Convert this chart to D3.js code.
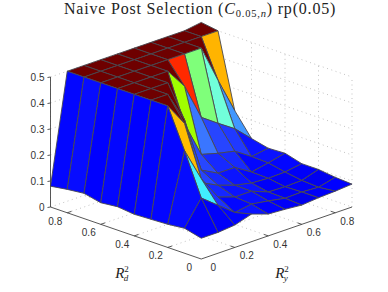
<!DOCTYPE html>
<html>
<head>
<meta charset="utf-8">
<style>
	html, body { margin: 0; padding: 0; background: #fff; }
	svg { display: block; }
</style>
<script src="https://cdnjs.cloudflare.com/ajax/libs/d3/7.8.5/d3.min.js"></script>
</head>
<body>
<svg id="chart" width="388" height="292"></svg>
<script>
var ryValues = [0, 0.1, 0.2, 0.3, 0.4, 0.5, 0.6, 0.7, 0.8, 0.9];
var rdValues = [0, 0.1, 0.2, 0.3, 0.4, 0.5, 0.6, 0.7, 0.8, 0.9];
var floorTicks = [0.2, 0.4, 0.6, 0.8];
var floorLabels = [0, 0.2, 0.4, 0.6, 0.8];
var zTicks = [0, 0.1, 0.2, 0.3, 0.4, 0.5];

// one list per Rd value, read along Ry
var zAtRd0 = [0.08, 0.08, 0.086, 0.106, 0.084, 0.08, 0.074, 0.08, 0.083, 0.088];
var zAtRd1 = [0.096, 0.19, 0.14, 0.09, 0.10, 0.09, 0.078, 0.08, 0.076, 0.092];
var zAtRd2 = [0.089, 0.35, 0.22, 0.127, 0.105, 0.105, 0.08, 0.078, 0.08, 0.10];
var zAtRd3 = [0.086, 0.5, 0.41, 0.16, 0.128, 0.106, 0.092, 0.088, 0.09, 0.10];
var zAtRd4 = [0.083, 0.5, 0.5, 0.38, 0.164, 0.13, 0.13, 0.09, 0.103, 0.118];
var zAtRd5 = [0.09, 0.5, 0.5, 0.5, 0.32, 0.18, 0.162, 0.148, 0.105, 0.115];
var zAtRd6 = [0.083, 0.5, 0.5, 0.5, 0.5, 0.42, 0.278, 0.233, 0.19, 0.13];
var zAtRd7 = [0.097, 0.5, 0.5, 0.5, 0.5, 0.5, 0.5, 0.5, 0.354, 0.215];
var zAtRd8 = [0.09, 0.5, 0.5, 0.5, 0.5, 0.5, 0.5, 0.5, 0.5, 0.5];
var zAtRd9 = [0.08, 0.5, 0.5, 0.5, 0.5, 0.5, 0.5, 0.5, 0.5, 0.51];
var heights = [zAtRd0, zAtRd1, zAtRd2, zAtRd3, zAtRd4, zAtRd5, zAtRd6, zAtRd7, zAtRd8, zAtRd9];

// cells whose colour does not follow their corner height: Ry index, Rd index, colour value
var colourOverrides = [[1, 1, 0.215], [2, 3, 0.5], [3, 4, 0.5]];

var svg = d3.select("#chart");

// oblique view: left-right is Ry - Rd, up the floor is Ry + Rd
var acrossScale = d3.scaleLinear().domain([-0.9, 0.9]).range([50.5, 352]);
var floorScale = d3.scaleLinear().domain([0, 1.8]).range([259, 155]);
var zScale = d3.scaleLinear().domain([0, 0.5]).range([0, 130]);

function project(ry, rd, z) {
	return [acrossScale(ry - rd), floorScale(ry + rd) - zScale(z)];
}

// the surface colours are a washed out jet, the first scale bends z onto the jet position
var jetPosition = d3.scaleLinear()
	.domain([0.05, 0.083, 0.165, 0.185, 0.23, 0.32, 0.35, 0.5])
	.range([0.06, 0.125, 0.2, 0.27, 0.43, 0.55, 0.69, 1])
	.clamp(true);
var jet = d3.scaleLinear()
	.domain([0, 0.125, 0.2, 0.27, 0.375, 0.43, 0.5, 0.55, 0.625, 0.875, 1])
	.range(["#000080", "#0000ff", "#2848ff", "#4085ff", "#40f0ff", "#70ffe0", "#80ff70", "#a0ff00", "#ffff00", "#ff0000", "#6e0000"]);

function drawDotted(points) {
	svg.append("path")
		.attr("d", d3.line()(points))
		.attr("fill", "none")
		.attr("stroke", "#b4b4b4")
		.attr("stroke-width", 0.8)
		.attr("stroke-dasharray", "1 3.5");
}

// back walls and floor grid
zTicks.forEach(function (z) {
	drawDotted([project(0, 0.9, z), project(0.9, 0.9, z), project(0.9, 0, z)]);
});
floorTicks.forEach(function (v) {
	drawDotted([project(v, 0, 0), project(v, 0.9, 0), project(v, 0.9, 0.5)]);
	drawDotted([project(0, v, 0), project(0.9, v, 0), project(0.9, v, 0.5)]);
});
drawDotted([project(0.9, 0, 0), project(0.9, 0, 0.5)]);
drawDotted([project(0.9, 0.9, 0), project(0.9, 0.9, 0.5)]);
drawDotted([project(0, 0.9, 0), project(0, 0.9, 0.5)]);

// one quad per grid cell, painted far to near
var cells = [];
d3.range(rdValues.length - 1).forEach(function (j) {
	d3.range(ryValues.length - 1).forEach(function (i) {
		cells.push({ i: i, j: j, colourZ: heights[j][i] });
	});
});
colourOverrides.forEach(function (o) {
	cells.filter(function (c) { return c.i === o[0] && c.j === o[1]; })[0].colourZ = o[2];
});

function cellPath(c) {
	var corners = [[c.i, c.j], [c.i + 1, c.j], [c.i + 1, c.j + 1], [c.i, c.j + 1]];
	return d3.line()(corners.map(function (k) {
		return project(ryValues[k[0]], rdValues[k[1]], heights[k[1]][k[0]]);
	})) + "Z";
}

svg.append("g")
	.selectAll("path")
	.data(d3.sort(cells, function (a, b) { return (b.i + b.j) - (a.i + a.j); }))
	.join("path")
	.attr("d", cellPath)
	.attr("fill", function (c) { return jet(jetPosition(c.colourZ)); })
	.attr("stroke", "#47474f")
	.attr("stroke-width", 0.9)
	.attr("stroke-linejoin", "round");

// axes
var axisColour = "#444";
function drawSolid(points) {
	svg.append("path")
		.attr("d", d3.line()(points))
		.attr("fill", "none")
		.attr("stroke", axisColour)
		.attr("stroke-width", 0.9);
}
drawSolid([project(0, 0.9, 0), project(0, 0.9, 0.5)]);
drawSolid([project(0, 0.9, 0), project(0, 0, 0), project(0.9, 0, 0)]);

var labelFont = "Liberation Sans, Arial, sans-serif";
function tickLabel(x, y, text, anchor) {
	svg.append("text")
		.attr("x", x)
		.attr("y", y)
		.attr("text-anchor", anchor)
		.attr("font-family", labelFont)
		.attr("font-size", 10)
		.attr("fill", "#333")
		.text(text);
}

zTicks.forEach(function (z) {
	var p = project(0, 0.9, z);
	drawSolid([p, [p[0] - 3, p[1] + 0.5]]);
	tickLabel(p[0] - 6, p[1] + 3.5, String(z), "end");
});
floorLabels.forEach(function (v) {
	var onRd = project(0, v, 0);
	var onRy = project(v, 0, 0);
	if (v > 0) {
		drawSolid([onRd, project(0.025, v, 0)]);
		drawSolid([onRy, project(v, 0.025, 0)]);
	}
	tickLabel(onRd[0] - 12, onRd[1] + 12, String(v), "middle");
	tickLabel(onRy[0] + 12, onRy[1] + 12, String(v), "middle");
});

// math labels
var serif = "Liberation Serif, Times New Roman, serif";
function axisTitle(x, letter) {
	var t = svg.append("text")
		.attr("x", x)
		.attr("y", 278)
		.attr("text-anchor", "middle")
		.attr("font-family", serif)
		.attr("font-style", "italic")
		.attr("font-size", 15)
		.attr("fill", "#222");
	t.append("tspan").text("R");
	t.append("tspan").attr("font-size", 9).attr("font-style", "normal").attr("dy", -6).text("2");
	t.append("tspan").attr("font-size", 9).attr("dx", -5).attr("dy", 9).text(letter);
}
axisTitle(122, "d");
axisTitle(282, "y");

var title = svg.append("text")
	.attr("x", 64)
	.attr("y", 14)
	.attr("font-family", serif)
	.attr("font-size", 16)
	.attr("letter-spacing", 0.8)
	.attr("fill", "#222");
title.append("tspan").text("Naive Post Selection (");
title.append("tspan").attr("font-style", "italic").text("C");
title.append("tspan").attr("font-size", 10.5).attr("dy", 3).text("0.05,");
title.append("tspan").attr("font-size", 10.5).attr("font-style", "italic").text("n");
title.append("tspan").attr("dy", -3).text(") rp(0.05)");
</script>
</body>
</html>
